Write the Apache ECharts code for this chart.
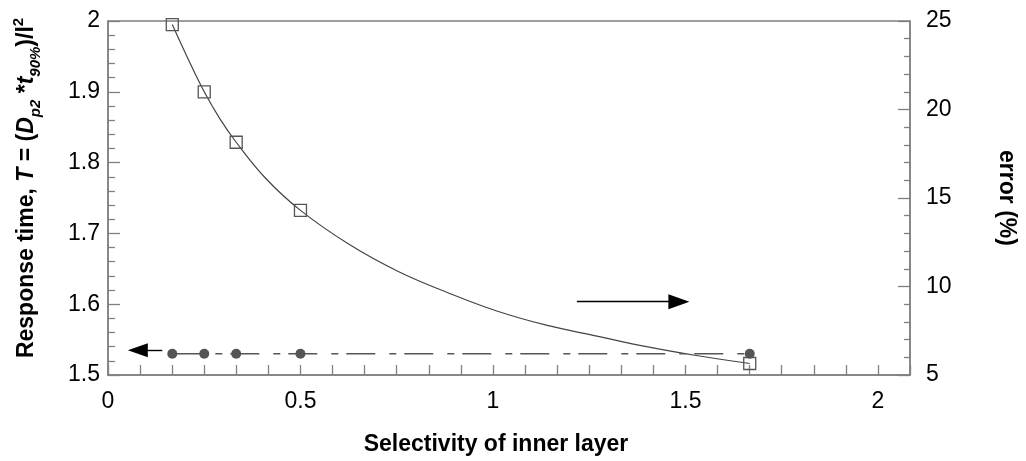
<!DOCTYPE html>
<html>
<head>
<meta charset="utf-8">
<script src="https://cdn.jsdelivr.net/npm/echarts@6/dist/echarts.min.js"></script>
<style>
  html, body { margin: 0; padding: 0; background: #fff; }
  #chart { width: 1026px; height: 461px; }
</style>
</head>
<body>
<div id="chart"></div>
<script>
// measured points (selectivity of inner layer)
var selectivity = [0.167, 0.25, 0.333, 0.5, 1.667];
var errorPct = [24.8, 21.0, 18.15, 14.3, 5.65];
var responseTime = [1.53, 1.53, 1.53, 1.53, 1.53];

// fitted curve
var fitX = [0.167, 0.205, 0.25, 0.29, 0.333, 0.41, 0.5, 0.625, 0.754, 0.883, 1.012, 1.141, 1.27, 1.399, 1.528, 1.667];
var fitErr = [24.8, 23.0, 21.0, 19.5, 18.15, 16.1, 14.3, 12.4, 10.85, 9.65, 8.6, 7.8, 7.2, 6.6, 6.1, 5.65];

// arrows: [x from, x to, y]
var arrowLeft = [0.141, 0.0775, 1.5348];
var arrowRight = [1.218, 1.483, 9.14];

var FONT = 'Liberation Sans, Arial, sans-serif';
var GREY = '#808080';

function pairs(xs, ys) {
    return xs.map(function (x, i) { return [x, ys[i]]; });
}

var myChart = echarts.init(document.getElementById('chart'));

var option = {
    backgroundColor: '#fff',
    animation: false,
    textStyle: { fontFamily: FONT },
    grid: {
        left: 108, right: 112, top: 21, bottom: 81,
        show: true, borderColor: GREY, borderWidth: 1.5, backgroundColor: 'transparent'
    },
    xAxis: {
        type: 'value',
        min: 0,
        max: 25 / 12,
        interval: 1 / 12,
        name: 'Selectivity of inner layer',
        nameLocation: 'middle',
        nameGap: 58,
        nameTextStyle: { fontSize: 23, fontWeight: 'bold', color: '#000', fontFamily: FONT, padding: [0, 26, 0, 0] },
        axisLine: { show: true, lineStyle: { color: GREY, width: 1.5 } },
        axisTick: { show: true, inside: true, length: 10, lineStyle: { color: GREY, width: 1.3 } },
        splitLine: { show: false },
        axisLabel: {
            fontSize: 23, color: '#000', fontFamily: FONT, margin: 15,
            showMaxLabel: false,
            formatter: function (v) {
                var h = v * 2;
                if (Math.abs(h - Math.round(h)) < 1e-6) return String(Math.round(h) / 2);
                return '';
            }
        }
    },
    yAxis: [
        {
            type: 'value',
            position: 'left',
            min: 1.5,
            max: 2,
            interval: 0.1,
            name: '{b|Response time, }{bi|T}{b| = (}{bi|D}{sub|p2}{b| *}{bi|t}{sub|90%}{b|)/l}{sup|2}',
            nameLocation: 'middle',
            nameRotate: 90,
            nameGap: 65,
            nameTextStyle: {
                color: '#000',
                padding: [0, 0, 0, 20],
                rich: {
                    b: { fontSize: 23, fontWeight: 'bold', fontFamily: FONT, color: '#000', lineHeight: 32, verticalAlign: 'middle' },
                    bi: { fontSize: 23, fontWeight: 'bold', fontStyle: 'italic', fontFamily: FONT, color: '#000', lineHeight: 32, verticalAlign: 'middle' },
                    sub: { fontSize: 15, fontWeight: 'bold', fontStyle: 'italic', fontFamily: FONT, color: '#000', lineHeight: 15, verticalAlign: 'bottom' },
                    sup: { fontSize: 15, fontWeight: 'bold', fontFamily: FONT, color: '#000', lineHeight: 15, verticalAlign: 'top' }
                }
            },
            axisLine: { show: true, lineStyle: { color: GREY, width: 1.5 } },
            axisTick: { show: true, inside: true, length: 12, lineStyle: { color: GREY, width: 1.3 } },
            minorTick: { show: true, splitNumber: 5, length: 7, lineStyle: { color: GREY, width: 1.3 } },
            splitLine: { show: false },
            axisLabel: {
                fontSize: 23, color: '#000', fontFamily: FONT, margin: 8,
                formatter: function (v) { return String(Math.round(v * 10) / 10); }
            }
        },
        {
            type: 'value',
            position: 'right',
            min: 5,
            max: 25,
            interval: 5,
            name: 'error (%)',
            nameLocation: 'middle',
            nameRotate: -90,
            nameGap: 85,
            nameTextStyle: { fontSize: 23, fontWeight: 'bold', color: '#000', fontFamily: FONT },
            axisLine: { show: true, lineStyle: { color: GREY, width: 1.5 } },
            axisTick: { show: true, inside: true, length: 12, lineStyle: { color: GREY, width: 1.3 } },
            minorTick: { show: true, splitNumber: 5, length: 6, lineStyle: { color: GREY, width: 1.3 } },
            splitLine: { show: false },
            axisLabel: { fontSize: 23, color: '#000', fontFamily: FONT, margin: 16 }
        }
    ],
    series: [
        {
            name: 'fit',
            type: 'line',
            yAxisIndex: 1,
            data: pairs(fitX, fitErr),
            smooth: 0.4,
            showSymbol: false,
            symbol: 'none',
            lineStyle: { color: '#444', width: 1.2 },
            markLine: {
                silent: true,
                symbol: ['none', 'triangle'],
                symbolSize: [15, 21],
                label: { show: false },
                lineStyle: { color: '#000', width: 1.4, type: 'solid' },
                data: [[
                    { coord: [arrowRight[0], arrowRight[2]] },
                    { coord: [arrowRight[1], arrowRight[2]] }
                ]]
            },
            z: 2
        },
        {
            name: 'error',
            type: 'line',
            yAxisIndex: 1,
            data: pairs(selectivity, errorPct),
            symbol: 'rect',
            symbolSize: 12,
            lineStyle: { width: 0, opacity: 0 },
            itemStyle: { color: 'rgba(255,255,255,0)', borderColor: '#555', borderWidth: 1.3 },
            z: 3
        },
        {
            name: 'response time',
            type: 'line',
            yAxisIndex: 0,
            data: pairs(selectivity, responseTime),
            symbol: 'circle',
            symbolSize: 10,
            lineStyle: { color: '#555', width: 1.3, type: [29, 14, 7, 8] },
            itemStyle: { color: '#555', borderWidth: 0 },
            markLine: {
                silent: true,
                symbol: ['none', 'triangle'],
                symbolSize: [14, 20],
                label: { show: false },
                lineStyle: { color: '#000', width: 1.4, type: 'solid' },
                data: [[
                    { coord: [arrowLeft[0], arrowLeft[2]] },
                    { coord: [arrowLeft[1], arrowLeft[2]] }
                ]]
            },
            z: 4
        }
    ]
};

myChart.setOption(option);
</script>
</body>
</html>
